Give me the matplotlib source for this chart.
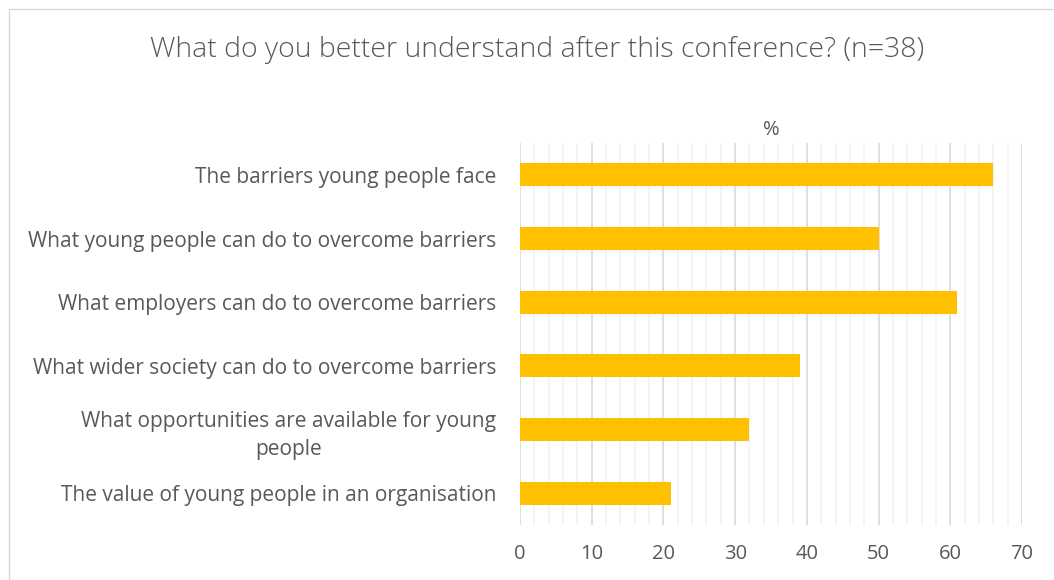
import matplotlib
matplotlib.use('Agg')
import matplotlib.pyplot as plt
from matplotlib.patches import Rectangle
from matplotlib.ticker import MultipleLocator

categories = [
    'The barriers young people face',
    'What young people can do to overcome barriers',
    'What employers can do to overcome barriers',
    'What wider society can do to overcome barriers',
    'What opportunities are available for young\npeople',
    'The value of young people in an organisation',
]
percent = [66, 50, 61, 39, 32, 21]
x_ticks = [0, 10, 20, 30, 40, 50, 60, 70]

TEXT = '#595959'
BAR = '#FFC000'

plt.rcParams['font.family'] = ['Open Sans', 'DejaVu Sans']

fig = plt.figure(figsize=(10.54, 5.8), dpi=100)
ax = fig.add_axes([520 / 1054, 1 - 525 / 580, 502 / 1054, 382 / 580])

# chart frame
fig.patches.append(Rectangle((9 / 1054, -0.05), 1.1, 1 - 9 / 580 + 0.05,
                             transform=fig.transFigure, fill=False,
                             edgecolor='#D9D9D9', linewidth=1.0))

y = list(range(len(categories)))
ax.barh(y, percent, height=0.36, color=BAR, zorder=3)
ax.set_ylim(len(categories) - 0.5, -0.5)
ax.set_yticks(y)
ax.set_yticklabels(categories, fontsize=15, color=TEXT,
                   multialignment='center', linespacing=1.45)

ax.set_xlim(0, 70)
ax.set_xticks(x_ticks)
ax.set_xticklabels([str(v) for v in x_ticks], fontsize=14.5, color=TEXT)
ax.xaxis.set_minor_locator(MultipleLocator(2))
ax.grid(axis='x', which='major', color='#D9D9D9', linewidth=1.2, zorder=0)
ax.grid(axis='x', which='minor', color='#F2F2F2', linewidth=1.2, zorder=0)
ax.tick_params(axis='both', which='both', length=0)
ax.tick_params(axis='x', pad=14)
ax.tick_params(axis='y', pad=17)
for s in ax.spines.values():
    s.set_visible(False)

ax.set_title('%', fontsize=14.5, color=TEXT, pad=6)
fig.text(0.5 + 10 / 1054, 1 - 50 / 580, 'What do you better understand after this conference? (n=38)',
         ha='center', va='center', fontsize=20.5, color=TEXT, fontweight='light')

fig.savefig('out.png', dpi=100)
